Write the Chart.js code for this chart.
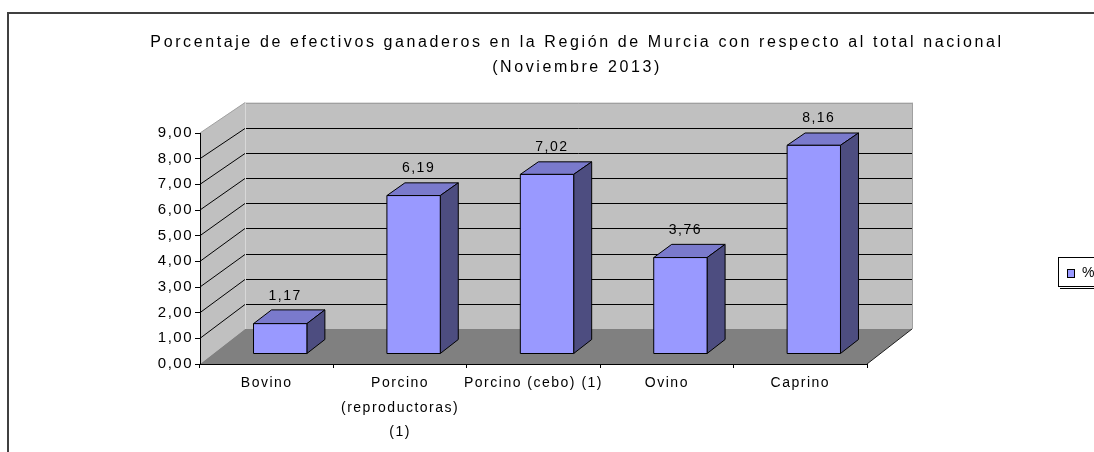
<!DOCTYPE html>
<html>
<head>
<meta charset="utf-8">
<script src="https://cdn.jsdelivr.net/npm/chart.js@4.4.0/dist/chart.umd.min.js"></script>
<style>
  html, body { margin: 0; padding: 0; background: #fff; overflow: hidden; }
  canvas { display: block; }
</style>
</head>
<body>
<canvas id="chart" width="1094" height="452"></canvas>
<script>
const titleLines = [
  "Porcentaje de efectivos ganaderos en la Región de Murcia con respecto al total nacional",
  "(Noviembre 2013)"
];
const categories = [
  ["Bovino"],
  ["Porcino", "(reproductoras)", "(1)"],
  ["Porcino (cebo) (1)"],
  ["Ovino"],
  ["Caprino"]
];
const seriesLabel = "%";
const percentages = [1.17, 6.19, 7.02, 3.76, 8.16];
const yMin = 0;
const yMax = 9;
const yStep = 1;

// look of the fake 3d box
const DEPTH_X = 45;
const DEPTH_Y = 35;
const SHRINK = 0.02;
const BAR_FRONT = 0.3;
const BAR_BACK = 0.7;
const FONT = "'Liberation Sans', Arial, sans-serif";
const LETTER_SPACING = "1.5px";
const TITLE_SPACING = "2.6px";

const fmt = v => v.toFixed(2).replace(".", ",");

function proj(chart, xPix, value, d) {
  const ys = chart.scales.y;
  const y0 = ys.getPixelForValue(yMin);
  const yv = ys.getPixelForValue(value);
  return { x: xPix + d * DEPTH_X, y: y0 - d * DEPTH_Y - (y0 - yv) * (1 - SHRINK * d) };
}

function poly(ctx, pts, fill, stroke) {
  ctx.beginPath();
  ctx.moveTo(pts[0].x, pts[0].y);
  for (let i = 1; i < pts.length; i++) ctx.lineTo(pts[i].x, pts[i].y);
  ctx.closePath();
  if (fill) { ctx.fillStyle = fill; ctx.fill(); }
  if (stroke) { ctx.strokeStyle = stroke; ctx.lineWidth = 1; ctx.stroke(); }
}

function line(ctx, a, b, color) {
  ctx.beginPath();
  ctx.moveTo(a.x, a.y);
  ctx.lineTo(b.x, b.y);
  ctx.strokeStyle = color;
  ctx.lineWidth = 1;
  ctx.stroke();
}

const depthPlugin = {
  id: "depth3d",
  beforeDraw(chart) {
    const ctx = chart.ctx;
    ctx.letterSpacing = LETTER_SPACING;

    // wider spacing for the title only
    const tb = chart.titleBlock;
    if (tb && !tb._spaced) {
      const orig = tb.draw.bind(tb);
      tb.draw = function (area) {
        ctx.save();
        ctx.letterSpacing = TITLE_SPACING;
        orig(area);
        ctx.restore();
      };
      tb._spaced = true;
    }

    const L = chart.chartArea.left;
    const R = chart.chartArea.right;
    ctx.save();

    // outer frame (runs off the page on the right and bottom)
    ctx.strokeStyle = "#404040";
    ctx.lineWidth = 2;
    ctx.strokeRect(8, 13, chart.width + 40, chart.height + 40);

    // walls and floor
    poly(ctx, [proj(chart, L, yMin, 0), proj(chart, L, yMax, 0), proj(chart, L, yMax, 1), proj(chart, L, yMin, 1)], "#c0c0c0");
    poly(ctx, [proj(chart, L, yMin, 1), proj(chart, L, yMax, 1), proj(chart, R, yMax, 1), proj(chart, R, yMin, 1)], "#c0c0c0");
    poly(ctx, [proj(chart, L, yMin, 0), proj(chart, R, yMin, 0), proj(chart, R, yMin, 1), proj(chart, L, yMin, 1)], "#808080");

    // gridlines on side and back wall
    chart.scales.y.ticks.forEach(t => {
      if (t.value <= yMin || t.value >= yMax) return;
      const a = proj(chart, L, t.value, 0);
      const b = proj(chart, L, t.value, 1);
      const c = proj(chart, R, t.value, 1);
      const yb = Math.round(b.y) + 0.5;
      line(ctx, { x: a.x, y: a.y }, { x: b.x, y: yb }, "#000");
      line(ctx, { x: b.x, y: yb }, { x: c.x, y: yb }, "#000");
    });

    // wall edges
    const tl = proj(chart, L, yMax, 1), tr = proj(chart, R, yMax, 1), br = proj(chart, R, yMin, 1), bl = proj(chart, L, yMin, 1);
    line(ctx, proj(chart, L, yMax, 0), tl, "#a0a0a0");
    line(ctx, { x: tl.x, y: Math.round(tl.y) + 0.5 }, { x: tr.x, y: Math.round(tr.y) + 0.5 }, "#a0a0a0");
    line(ctx, { x: Math.round(tr.x) + 0.5, y: tr.y }, { x: Math.round(br.x) + 0.5, y: br.y }, "#a0a0a0");
    line(ctx, { x: Math.round(tl.x) + 0.5, y: tl.y }, { x: Math.round(bl.x) + 0.5, y: bl.y }, "#d8d8d8");
    line(ctx, proj(chart, R, yMin, 0), br, "#202020");
    ctx.restore();
  },
  beforeDatasetsDraw(chart) {
    const ctx = chart.ctx;
    const meta = chart.getDatasetMeta(0);
    ctx.save();
    ctx.lineJoin = "miter";
    meta.data.forEach((bar, i) => {
      const v = percentages[i];
      const x1 = bar.x - bar.width / 2;
      const x2 = bar.x + bar.width / 2;
      const f = BAR_FRONT, b = BAR_BACK;
      poly(ctx, [proj(chart, x1, v, f), proj(chart, x2, v, f), proj(chart, x2, v, b), proj(chart, x1, v, b)], "#7a7acc", "#000");
      poly(ctx, [proj(chart, x2, yMin, f), proj(chart, x2, v, f), proj(chart, x2, v, b), proj(chart, x2, yMin, b)], "#4d4d80", "#000");
      poly(ctx, [proj(chart, x1, yMin, f), proj(chart, x2, yMin, f), proj(chart, x2, v, f), proj(chart, x1, v, f)], "#9999ff", "#000");

      // value label
      const p = proj(chart, bar.x, v, 0.5);
      ctx.fillStyle = "#000";
      ctx.font = "14px " + FONT;
      ctx.textAlign = "center";
      ctx.textBaseline = "middle";
      ctx.fillText(fmt(v), proj(chart, bar.x, v, 0.41).x, p.y - 21);
    });
    ctx.restore();
    return false;
  },
  afterDraw(chart) {
    const ctx = chart.ctx;
    ctx.save();
    // legend box, cut off by the page edge like the original
    ctx.strokeStyle = "#000";
    ctx.lineWidth = 1;
    ctx.strokeRect(1058.5, 257.5, 60, 29);
    line(ctx, { x: 1060, y: 288.5 }, { x: 1100, y: 288.5 }, "#000");
    ctx.fillStyle = chart.data.datasets[0].backgroundColor;
    ctx.fillRect(1067, 269, 7, 8);
    ctx.strokeRect(1067.5, 269.5, 7, 8);
    ctx.fillStyle = "#000";
    ctx.font = "14px " + FONT;
    ctx.textAlign = "left";
    ctx.textBaseline = "middle";
    ctx.fillText(chart.data.datasets[0].label, 1082, 273);
    ctx.restore();
  }
};

new Chart(document.getElementById("chart"), {
  type: "bar",
  data: {
    labels: categories,
    datasets: [{
      label: seriesLabel,
      data: percentages,
      backgroundColor: "#9999ff",
      borderColor: "#000",
      borderWidth: 1,
      barPercentage: 0.4,
      categoryPercentage: 1
    }]
  },
  options: {
    responsive: false,
    devicePixelRatio: 1,
    animation: false,
    layout: { padding: { left: 60, right: 0, top: 0, bottom: 0 } },
    plugins: {
      legend: { display: false },
      tooltip: { enabled: false },
      title: {
        display: true,
        text: titleLines,
        color: "#000",
        font: { family: FONT, size: 16, weight: "normal", lineHeight: 25 / 16 },
        padding: { top: 30, bottom: 53 }
      }
    },
    scales: {
      x: {
        type: "category",
        offset: true,
        grid: { offset: true, drawOnChartArea: false, drawTicks: true, tickLength: 4, color: "#000" },
        border: { display: true, color: "#000" },
        ticks: {
          color: "#000",
          font: { family: FONT, size: 14, lineHeight: 1.75 },
          padding: 3,
          maxRotation: 0,
          autoSkip: false
        },
        afterFit: s => { s.height = 88; }
      },
      y: {
        min: yMin,
        max: yMax,
        grid: { drawOnChartArea: false, drawTicks: true, tickLength: 5, color: "#000" },
        border: { display: true, color: "#000" },
        ticks: {
          stepSize: yStep,
          color: "#000",
          font: { family: FONT, size: 15 },
          padding: 2,
          callback: v => fmt(v)
        },
        afterFit: s => { s.width = 140; }
      },
      yR: {
        position: "right",
        display: true,
        grid: { display: false },
        border: { display: false },
        ticks: { display: false },
        afterFit: s => { s.width = 227; }
      }
    }
  },
  plugins: [depthPlugin]
});
</script>
</body>
</html>
